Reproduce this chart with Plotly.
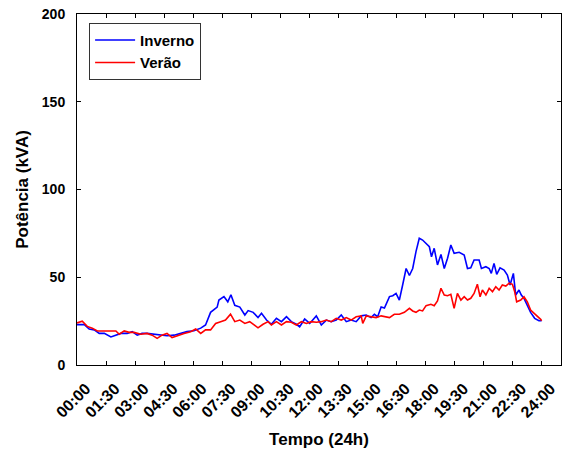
import plotly.graph_objects as go

# Daily apparent-power profile, time in hours (0-24), power in kVA
inverno_h = [0.00, 0.38, 0.63, 0.89, 1.15, 1.41, 1.75, 2.01, 2.27, 2.59, 2.85, 3.11, 3.36, 3.62,
             3.98, 4.33, 4.65, 5.01, 5.36, 5.68, 6.04, 6.39, 6.64, 6.90, 7.24, 7.33, 7.59, 7.79,
             7.95, 8.15, 8.41, 8.67, 8.84, 9.10, 9.35, 9.53, 9.79, 10.04, 10.30, 10.56, 10.82,
             11.07, 11.33, 11.50, 11.76, 12.02, 12.36, 12.62, 12.88, 13.13, 13.39, 13.65, 13.91,
             14.16, 14.42, 14.68, 14.94, 15.19, 15.36, 15.53, 15.71, 15.88, 16.14, 16.31, 16.48,
             16.65, 16.82, 17.00, 17.17, 17.34, 17.51, 17.68, 17.85, 18.03, 18.20, 18.31, 18.45,
             18.62, 18.80, 18.97, 19.14, 19.31, 19.48, 19.74, 20.00, 20.17, 20.34, 20.51, 20.77,
             20.89, 21.12, 21.29, 21.40, 21.54, 21.68, 21.85, 22.06, 22.23, 22.37, 22.54, 22.66,
             22.83, 22.95, 23.09, 23.26, 23.43, 23.64, 23.86, 24.00]
inverno_kva = [23.0, 23.0, 20.5, 20.0, 18.0, 18.0, 16.0, 17.0, 18.0, 18.0, 19.0, 17.0, 18.0, 18.0,
               17.5, 17.0, 16.7, 17.0, 18.0, 19.0, 19.5, 21.0, 22.8, 30.0, 33.0, 37.0, 39.0, 36.0,
               40.0, 34.0, 33.0, 28.5, 31.0, 30.0, 27.0, 29.5, 25.6, 23.2, 26.6, 24.7, 27.5,
               24.7, 23.2, 21.8, 26.2, 23.7, 28.0, 22.8, 25.6, 24.7, 25.6, 28.5, 24.7,
               25.6, 24.7, 28.0, 28.5, 27.0, 28.9, 27.5, 33.0, 32.5, 39.0, 39.5, 40.8,
               37.0, 45.6, 55.0, 51.0, 55.0, 64.6, 72.2, 71.2, 69.3, 67.4, 61.7, 66.5,
               57.0, 63.0, 55.0, 60.8, 68.4, 63.6, 64.2, 62.7, 55.0, 55.4, 59.8, 59.8,
               55.0, 56.0, 55.0, 52.2, 57.9, 51.7, 55.4, 54.1, 51.3, 45.6, 52.2, 39.9,
               42.7, 39.9, 38.0, 34.2, 30.0, 26.6, 25.2, 25.2]

verao_h = [0.00, 0.27, 0.53, 0.79, 1.05, 1.41, 1.75, 2.01, 2.18, 2.44, 2.69, 2.95, 3.30, 3.62,
           3.88, 4.14, 4.39, 4.65, 4.91, 5.17, 5.53, 5.87, 6.13, 6.39, 6.64, 6.90, 7.16, 7.42,
           7.67, 7.93, 8.15, 8.41, 8.67, 8.92, 9.18, 9.35, 9.61, 9.87, 10.04, 10.30, 10.56,
           10.82, 11.07, 11.33, 11.59, 11.85, 12.10, 12.36, 12.62, 12.88, 13.13, 13.39, 13.65,
           13.91, 14.16, 14.42, 14.68, 14.76, 14.94, 15.19, 15.45, 15.71, 15.97, 16.14, 16.39,
           16.65, 16.91, 17.17, 17.34, 17.51, 17.68, 17.85, 18.03, 18.28, 18.45, 18.62, 18.80,
           18.97, 19.14, 19.31, 19.48, 19.65, 19.83, 20.00, 20.17, 20.34, 20.51, 20.68, 20.82,
           20.94, 21.12, 21.29, 21.46, 21.63, 21.80, 21.97, 22.15, 22.32, 22.49, 22.61, 22.71,
           22.92, 23.09, 23.26, 23.43, 23.69, 23.95, 24.00]
verao_kva = [24.0, 25.0, 22.0, 21.0, 19.4, 19.4, 19.4, 19.4, 17.5, 19.4, 18.6, 18.6, 17.5, 18.0,
             17.0, 15.2, 17.0, 18.0, 15.6, 16.7, 18.0, 19.0, 20.5, 18.0, 20.0, 20.0, 23.7, 24.7,
             25.6, 29.0, 24.7, 25.6, 23.7, 24.7, 22.8, 21.2, 23.2, 24.7, 22.8, 24.7, 22.8,
             24.7, 24.4, 22.8, 24.7, 23.7, 24.7, 24.4, 24.7, 25.6, 24.7, 26.6, 25.6,
             27.0, 25.6, 27.5, 28.0, 23.7, 28.0, 27.5, 27.0, 28.0, 27.5, 27.0, 28.9,
             28.9, 30.0, 32.3, 30.8, 30.0, 31.3, 30.8, 33.8, 34.6, 33.8, 36.5, 43.7,
             39.9, 39.5, 40.3, 32.3, 40.8, 37.0, 38.9, 37.0, 38.0, 40.8, 46.0, 38.9,
             42.7, 39.9, 43.7, 41.8, 44.6, 42.7, 45.6, 45.0, 46.6, 46.0, 41.8, 36.0,
             37.0, 38.9, 36.0, 31.3, 28.9, 26.0, 25.2]

tick_hours = [i * 1.5 for i in range(17)]
tick_labels = ["00:00", "01:30", "03:00", "04:30", "06:00", "07:30", "09:00", "10:30", "12:00",
               "13:30", "15:00", "16:30", "18:00", "19:30", "21:00", "22:30", "24:00"]

FONT = "Liberation Sans, Arial, Helvetica, sans-serif"

fig = go.Figure()
fig.add_trace(go.Scatter(x=inverno_h, y=inverno_kva, mode="lines", name="Inverno",
                         line=dict(color="rgb(0,0,255)", width=1.6)))
fig.add_trace(go.Scatter(x=verao_h, y=verao_kva, mode="lines", name="Verão",
                         line=dict(color="rgb(255,0,0)", width=1.6)))

axis_common = dict(showgrid=False, zeroline=False, showline=True, linecolor="black",
                   linewidth=1, mirror="ticks", ticks="inside", ticklen=4, tickcolor="black",
                   tickwidth=1)

fig.update_xaxes(range=[0, 25], tickvals=tick_hours, ticktext=tick_labels, tickangle=-45,
                 ticklabelshift=9, ticklabelstandoff=7,
                 tickfont=dict(family=FONT, size=16, color="black", weight="bold"),
                 title=dict(text="Tempo (24h)", standoff=14,
                            font=dict(family=FONT, size=17, color="black", weight="bold")),
                 **axis_common)
fig.update_yaxes(range=[0, 200], tickvals=[0, 50, 100, 150, 200],
                 ticklabelstandoff=8,
                 tickfont=dict(family=FONT, size=14, color="black", weight="bold"),
                 title=dict(text="Potência (kVA)", standoff=8,
                            font=dict(family=FONT, size=17, color="black", weight="bold")),
                 **axis_common)

fig.update_layout(
    width=563, height=449,
    margin=dict(l=77, r=2, t=14, b=84),
    plot_bgcolor="white", paper_bgcolor="white",
    showlegend=True,
    legend=dict(x=0.025, y=0.975, xanchor="left", yanchor="top",
                bgcolor="white", bordercolor="#333333", borderwidth=1,
                font=dict(family=FONT, size=15, color="black", weight="bold"),
                tracegroupgap=0, itemwidth=40),
)

fig.write_html("out.html")
